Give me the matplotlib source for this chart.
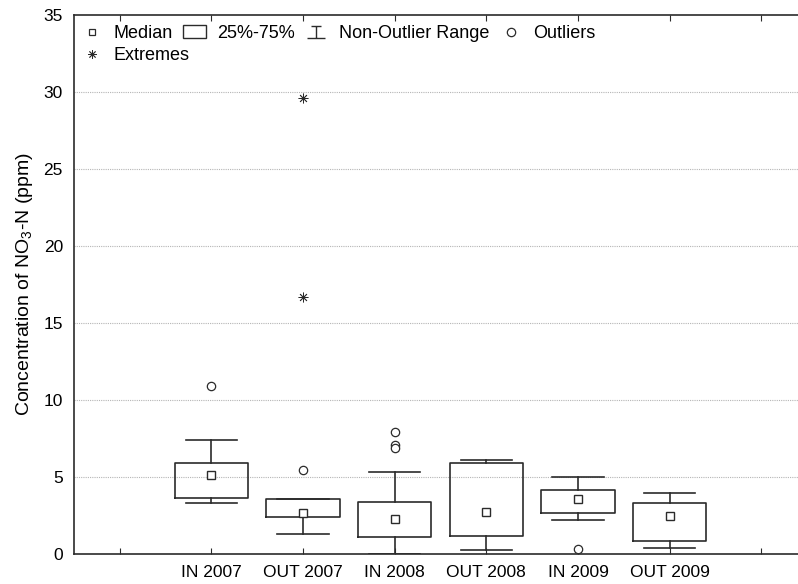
import numpy as np
import matplotlib
matplotlib.use("Agg")
import matplotlib.pyplot as plt
from matplotlib.lines import Line2D
from matplotlib.patches import Patch
from matplotlib.path import Path

plt.rcParams['font.family'] = ['Liberation Sans', 'DejaVu Sans']
plt.rcParams['mathtext.fontset'] = 'custom'
plt.rcParams['mathtext.rm'] = 'Liberation Sans'
plt.rcParams['mathtext.it'] = 'Liberation Sans:italic'

# data
groups = ['IN 2007', 'OUT 2007', 'IN 2008', 'OUT 2008', 'IN 2009', 'OUT 2009']
medians = [5.1, 2.65, 2.27, 2.7, 3.57, 2.47]
q1 = [3.65, 2.4, 1.1, 1.2, 2.65, 0.84]
q3 = [5.9, 3.55, 3.38, 5.9, 4.15, 3.3]
whisk_lo = [3.3, 1.3, 0.0, 0.26, 2.2, 0.39]
whisk_hi = [7.4, 3.55, 5.3, 6.1, 5.0, 3.96]
outliers = [[10.9], [5.45], [7.95, 7.05, 6.9], [], [0.3], []]
extremes = [[], [29.6, 16.7], [], [], [], []]

pos = np.arange(1, len(groups) + 1)
dark = '#2b2b2b'

fig = plt.figure(figsize=(7.98, 5.84), dpi=100)
ax = fig.add_axes([74 / 798, 30 / 584, 733 / 798, 539 / 584])

stats = []
for i, g in enumerate(groups):
    stats.append(dict(label=g, med=medians[i], q1=q1[i], q3=q3[i],
                      whislo=whisk_lo[i], whishi=whisk_hi[i], fliers=[]))

lp = dict(color=dark, linewidth=1.2)
ax.bxp(stats, positions=pos, widths=0.8, capwidths=0.56,
       showfliers=False, boxprops=lp, whiskerprops=lp, capprops=lp,
       medianprops=dict(visible=False), manage_ticks=False, zorder=3)

ax.plot(pos, medians, 's', ms=6, mfc='white', mec=dark, mew=1.0, ls='none', zorder=4)

for p, vals in zip(pos, outliers):
    if vals:
        ax.plot([p] * len(vals), vals, 'o', ms=6, mfc='white', mec=dark, mew=0.9,
                ls='none', zorder=4)
for p, vals in zip(pos, extremes):
    if vals:
        ax.plot([p] * len(vals), vals, marker=(8, 2, 0), ms=7, color=dark, mew=0.6,
                ls='none', zorder=4)

ax.set_xlim(-0.5, 7.5)
ax.set_ylim(0, 35)
ax.set_xticks(np.arange(0, 8))
ax.set_xticklabels([''] + groups + [''], fontsize=12.5)
ax.set_yticks(np.arange(0, 36, 5))
ax.tick_params(axis='y', length=0, labelsize=12.5, pad=8)
ax.tick_params(axis='x', direction='in', length=4, top=True, color=dark, pad=8)

for y in range(5, 35, 5):
    ax.axhline(y, color='#b5b5b5', lw=0.8, ls=(0, (1, 1)), zorder=1)

for s in ax.spines.values():
    s.set_color(dark)
    s.set_linewidth(1.2)

ax.set_ylabel('Concentration of NO$_3$-N (ppm)', fontsize=14, labelpad=6)

# legend: first row with four entries, "Extremes" on its own row below
range_marker = Path([(-0.28, 0.33), (0.28, 0.33), (0, 0.33), (0, -0.33), (-0.5, -0.33), (0.5, -0.33)],
                    [Path.MOVETO, Path.LINETO, Path.MOVETO, Path.LINETO, Path.MOVETO, Path.LINETO])
row1_handles = [
    Line2D([], [], marker='s', ms=4.5, mfc='white', mec=dark, mew=0.9, ls='none'),
    Patch(facecolor='white', edgecolor=dark, linewidth=1.0),
    Line2D([], [], marker=range_marker, ms=13.5, color=dark, mew=1.0, ls='none'),
    Line2D([], [], marker='o', ms=6, mfc='white', mec=dark, mew=0.9, ls='none'),
]
row1_labels = ['Median', '25%-75%', 'Non-Outlier Range', 'Outliers']
row2_handles = [Line2D([], [], marker=(8, 2, 0), ms=6, color=dark, mew=0.6, ls='none')]
row2_labels = ['Extremes']

leg_kw = dict(loc='upper left', frameon=False, fontsize=13, handlelength=1.28,
              handletextpad=0.6, columnspacing=0.55, borderaxespad=0.0, borderpad=0.33)
leg1 = ax.legend(row1_handles, row1_labels, ncol=4, bbox_to_anchor=(0.0, 0.9926), **leg_kw)
ax.add_artist(leg1)
ax.legend(row2_handles, row2_labels, bbox_to_anchor=(0.0, 0.9518), **leg_kw)

fig.savefig('out.png', dpi=100)
